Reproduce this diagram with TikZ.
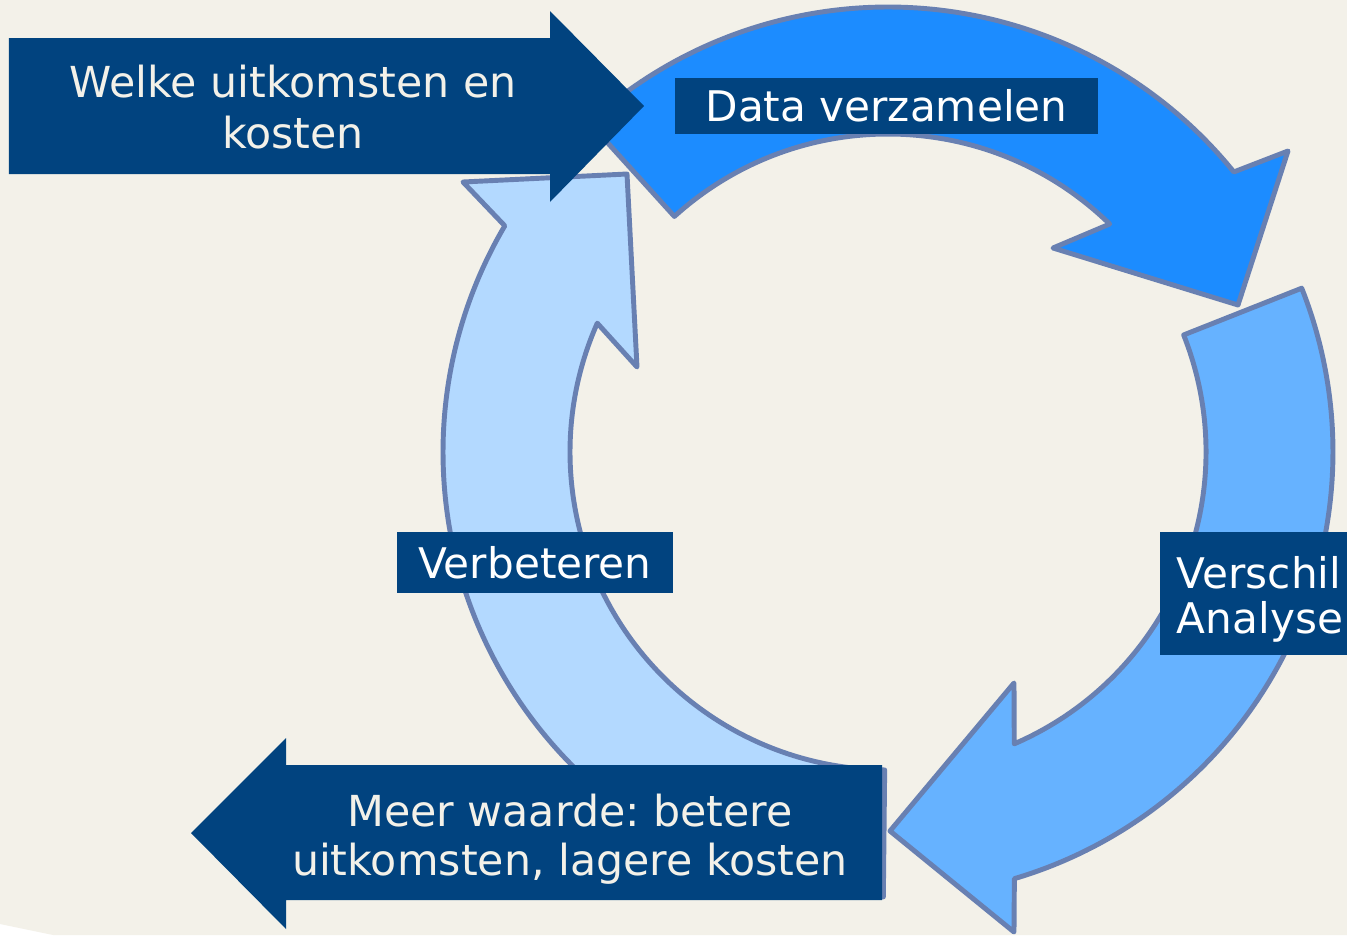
\documentclass[tikz,border=0pt]{standalone}
\usepackage{fontspec}
\setmainfont{DejaVu Sans}
\usetikzlibrary{calc}
\usetikzlibrary{positioning}
\frenchspacing
\definecolor{paper}{RGB}{243,241,233}
\definecolor{navy}{RGB}{1,67,127}
\definecolor{ringA}{RGB}{28,140,255}
\definecolor{ringB}{RGB}{102,178,255}
\definecolor{ringC}{RGB}{179,217,255}
\definecolor{rim}{RGB}{104,128,178}
\tikzset{ring arrow/.style={draw=rim, line width=1.4pt, line join=round},
    main node/.style={shape=rectangle, fill=navy, text=white, inner sep=0pt,
    font=\fontsize{12}{14.4}\selectfont},
    arrow text/.style={text=paper, inner sep=0pt, align=center}}

\begin{document}
\begin{tikzpicture}[x=0.01cm, y=0.01cm]
    \useasboundingbox (0,0) rectangle (1347,935);
    \clip (0,0) rectangle (1347,935);
    \fill[white] (0,0) rectangle (1347,935);
    \fill[paper] (0,11) -- (53,0) -- (1347,0) -- (1347,935) -- (0,935) -- cycle;

    \coordinate (c) at (888,483);

    % Verbeteren
    \draw[ring arrow, fill=ringC] ($(c)+(269.4:445)$) arc[start angle=269.4, end angle=149.45, radius=445]
        -- (463,753) -- (627,761) -- (637,568) -- ($(c)+(156.1:318)$)
        arc[start angle=156.1, end angle=269.4, radius=318] -- cycle;
    % Verschil analyse
    \draw[ring arrow, fill=ringB] ($(c)+(21.6:445)$) arc[start angle=21.6, end angle=-73.5, radius=445]
        -- (1014,3) -- (890,104) -- (1014,252) -- ($(c)+(-66.6:318)$)
        arc[start angle=-66.6, end angle=21.6, radius=318] -- cycle;
    % Data verzamelen
    \draw[ring arrow, fill=ringA] ($(c)+(132.2:445)$) arc[start angle=132.2, end angle=39, radius=445]
        -- (1288,784) -- (1238,630) -- (1053,687) -- ($(c)+(45.8:318)$)
        arc[start angle=45.8, end angle=132.2, radius=318] -- cycle;

    % in and out
    \fill[navy] (9,897) -- (550,897) -- (550,924) -- (644,829) -- (550,733) -- (550,761) -- (9,761) -- cycle;
    \fill[navy] (882,170) -- (286,170) -- (286,197) -- (191,102) -- (286,6) -- (286,35) -- (882,35) -- cycle;

    \node[main node, minimum width=4.23cm, minimum height=0.56cm] (1) at (886.5,829) {Data verzamelen};
    \node[main node, minimum width=2.75cm, minimum height=0.6cm] (2) at (535,372.5) {Verbeteren};
    \node[main node, minimum width=2.1cm, minimum height=1.23cm] (3) at (1265,341.5) {};
    \node[main node, fill=none, align=left, font=\fontsize{12}{12.8}\selectfont] (4)
        [right=0.17cm of 3.west, yshift=-0.06cm] {Verschil\\Analyse};

    \node[arrow text, font=\fontsize{12.15}{14.43}\selectfont] (5) at (293,827.6) {Welke uitkomsten en\\kosten};
    \node[arrow text, font=\fontsize{12.15}{13.94}\selectfont] (6) at (570,95.5) {Meer waarde: betere\\uitkomsten, lagere kosten};
\end{tikzpicture}
\end{document}
